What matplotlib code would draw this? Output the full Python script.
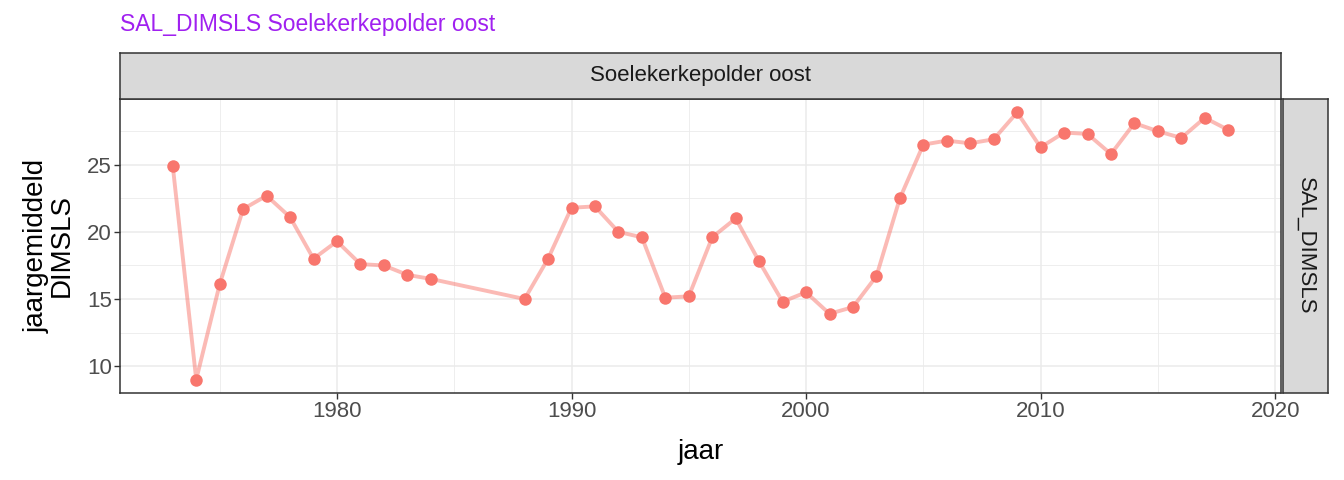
import numpy as np
import matplotlib
matplotlib.use("Agg")
import matplotlib.pyplot as plt
from matplotlib.ticker import MultipleLocator

plt.rcParams['font.family'] = ['Liberation Sans', 'DejaVu Sans']

jaar = [1973, 1974, 1975, 1976, 1977, 1978, 1979, 1980, 1981, 1982, 1983, 1984,
        1988, 1989, 1990, 1991, 1992, 1993, 1994, 1995, 1996, 1997, 1998, 1999,
        2000, 2001, 2002, 2003, 2004, 2005, 2006, 2007, 2008, 2009, 2010, 2011,
        2012, 2013, 2014, 2015, 2016, 2017, 2018]
waarde = [24.9, 9.0, 16.1, 21.7, 22.7, 21.1, 18.0, 19.3, 17.6, 17.5, 16.8, 16.5,
          15.0, 18.0, 21.8, 21.9, 20.0, 19.6, 15.1, 15.2, 19.6, 21.0, 17.8, 14.8,
          15.5, 13.9, 14.4, 16.7, 22.5, 26.5, 26.8, 26.6, 26.9, 28.9, 26.3, 27.4,
          27.3, 25.8, 28.1, 27.5, 27.0, 28.5, 27.6]

W, H = 1344, 480
fig = plt.figure(figsize=(W / 100, H / 100), dpi=100)

# panel
L, R, T, B = 120, 1281, 99, 393
ax = fig.add_axes([L / W, 1 - B / H, (R - L) / W, (B - T) / H])
ax.plot(jaar, waarde, color="#F8766D", alpha=0.5, lw=2.8, zorder=3)
ax.plot(jaar, waarde, "o", color="#F8766D", ms=9, mec="none", zorder=4)

ax.set_xlim(1970.75, 2020.25)
ax.set_ylim(8.0, 29.9)
ax.xaxis.set_major_locator(MultipleLocator(10))
ax.xaxis.set_minor_locator(MultipleLocator(5))
ax.yaxis.set_major_locator(MultipleLocator(5))
ax.yaxis.set_minor_locator(MultipleLocator(2.5))
ax.grid(which="major", color="#EBEBEB", lw=1.1)
ax.grid(which="minor", color="#EBEBEB", lw=0.6)
ax.set_axisbelow(True)
ax.tick_params(which="minor", length=0)
ax.tick_params(which="major", length=4, width=1, color="#333333",
               labelsize=16, labelcolor="#4D4D4D", pad=2)
for s in ax.spines.values():
    s.set_color("#333333")
    s.set_linewidth(1.1)

ax.set_xlabel("jaar", fontsize=20, labelpad=12)
ax.set_ylabel("jaargemiddeld\nDIMSLS", fontsize=20, labelpad=9, linespacing=0.95)

# top strip
sx = fig.add_axes([L / W, 1 - T / H, (R - L) / W, (T - 53) / H])
sx.set_facecolor("#D9D9D9")
sx.set_xticks([]); sx.set_yticks([])
for s in sx.spines.values():
    s.set_color("#333333"); s.set_linewidth(1.1)
sx.text(0.5, 0.5, "Soelekerkepolder oost", ha="center", va="center",
        fontsize=16, color="#1A1A1A", transform=sx.transAxes)

# right strip
rx = fig.add_axes([1283 / W, 1 - B / H, (1328 - 1283) / W, (B - T) / H])
rx.set_facecolor("#D9D9D9")
rx.set_xticks([]); rx.set_yticks([])
for s in rx.spines.values():
    s.set_color("#333333"); s.set_linewidth(1.1)
rx.text(0.5, 0.5, "SAL_DIMSLS", ha="center", va="center", rotation=-90,
        fontsize=16, color="#1A1A1A", transform=rx.transAxes)

fig.text(L / W, 1 - 25 / H, "SAL_DIMSLS Soelekerkepolder oost", ha="left",
         va="center", fontsize=16.5, color="#A020F0")

fig.savefig("out.png", dpi=100)
